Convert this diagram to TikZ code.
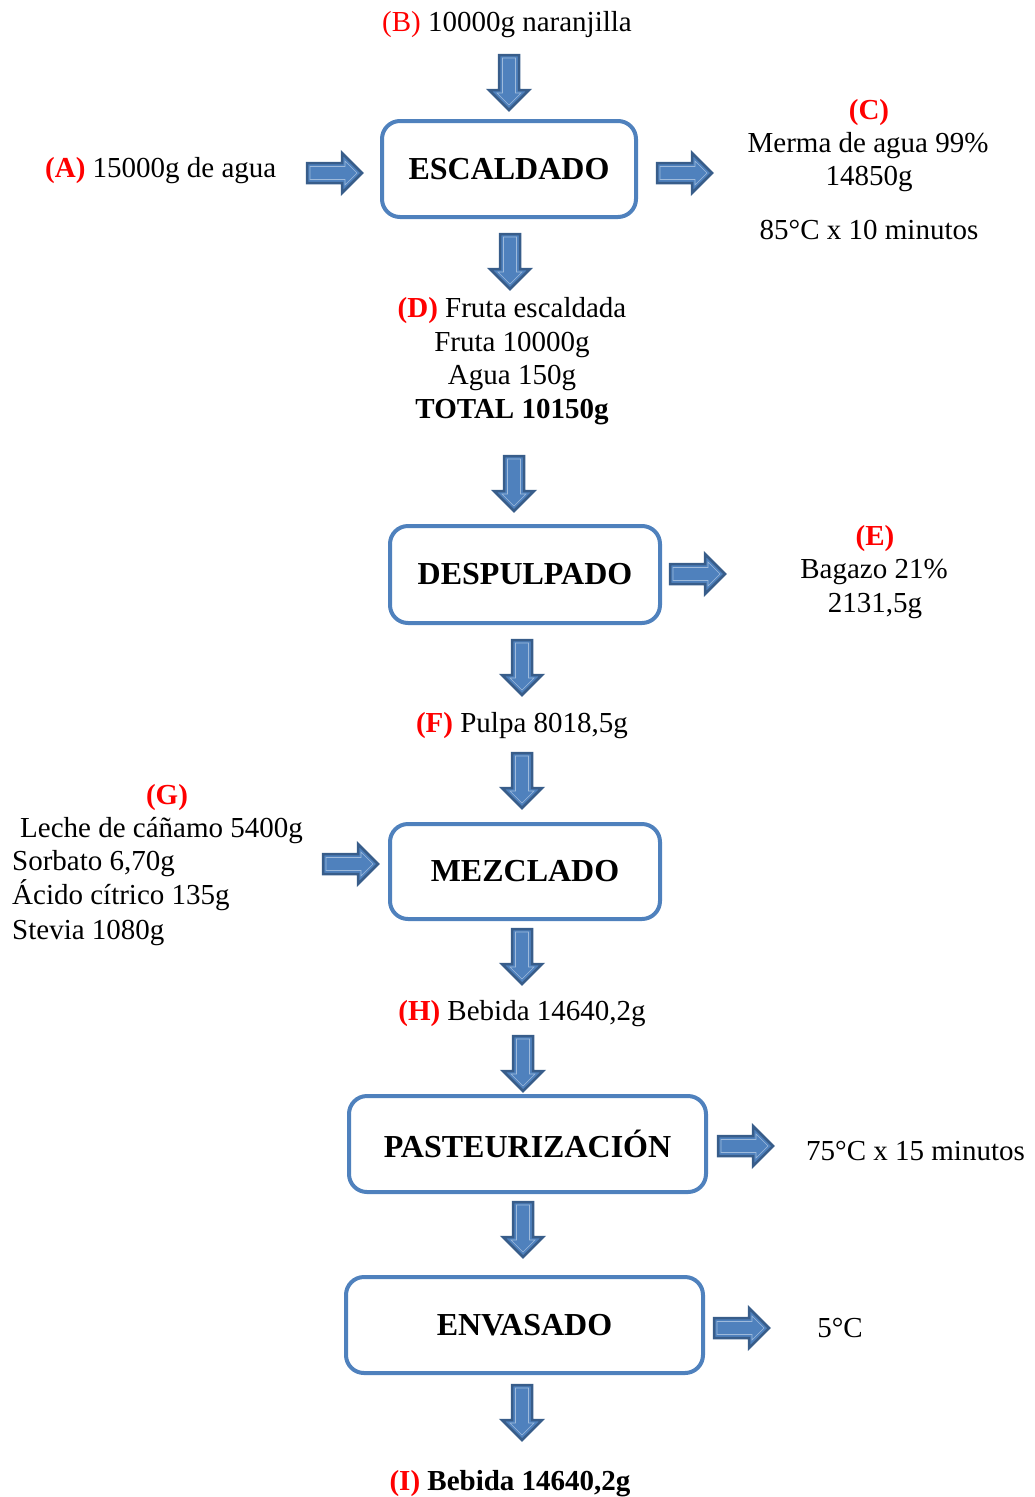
\documentclass[tikz,border=0pt]{standalone}
\usepackage{fontspec}
\setmainfont{Liberation Serif}
\begin{document}
\definecolor{boxblue}{HTML}{4F81BD}
\definecolor{arrowedge}{HTML}{385D8A}
\begin{tikzpicture}[x=1pt,y=-1pt,
  procbox/.style={draw=boxblue, line width=4pt, rounded corners=18pt, fill=white,
    font=\fontsize{32}{36}\selectfont\bfseries, inner sep=0pt, yshift=-1.5pt},
  lbl/.style={font=\fontsize{29}{33.5}\selectfont, inner sep=0pt, text height=20pt, text depth=6pt, yshift=-2.5pt},
  arrowbody/.style={fill=boxblue, draw=arrowedge, line width=2.5pt, line join=miter},
  pics/blockarrow/.style={code={
    \draw[arrowbody] (0,-10) -- (35,-10) -- (35,-20) -- (55,0) -- (35,20) -- (35,10) -- (0,10) -- cycle;
    \draw[white!45!boxblue, line width=0.6pt] (3,-6.5) -- (38,-6.5) -- (38,-12) -- (50,0) -- (38,12) -- (38,6.5) -- (3,6.5) -- cycle;
  }}]
\useasboundingbox (0,0) rectangle (1035,1497);

% process boxes
\node[procbox, minimum width=254, minimum height=96] (esc) at (509,167.5) {ESCALDADO};
\node[procbox, minimum width=270, minimum height=97] (desp) at (525,573) {DESPULPADO};
\node[procbox, minimum width=270, minimum height=95] (mez) at (525,870) {MEZCLADO};
\node[procbox, minimum width=357, minimum height=96] (past) at (527.5,1142.5) {PASTEURIZACIÓN};
\node[procbox, minimum width=357, minimum height=96] (env) at (524.5,1323.5) {ENVASADO};

% vertical flow arrows
\pic[rotate=-90] at (509,55) {blockarrow};
\pic[rotate=-90] at (510,234) {blockarrow};
\pic[rotate=-90] at (514,456) {blockarrow};
\pic[rotate=-90] at (522,640) {blockarrow};
\pic[rotate=-90] at (522,753) {blockarrow};
\pic[rotate=-90] at (522,929) {blockarrow};
\pic[rotate=-90] at (523,1036) {blockarrow};
\pic[rotate=-90] at (523,1202) {blockarrow};
\pic[rotate=-90] at (522,1385) {blockarrow};

% side arrows
\pic at (307,173) {blockarrow};
\pic at (657,173) {blockarrow};
\pic at (670,574) {blockarrow};
\pic at (323,864) {blockarrow};
\pic at (718,1146) {blockarrow};
\pic at (714,1328) {blockarrow};

% inputs and outputs
\node[lbl] (b) at (507,22) {\textcolor{red}{(B)} 10000g naranjilla};
\node[lbl, anchor=west] (a) at (45,168) {\textbf{\textcolor{red}{(A)}} 15000g de agua};

\node[lbl] (ctag) at (869,110) {\textbf{\textcolor{red}{(C)}}};
\node[lbl] (c1) at (868,143) {Merma de agua 99\%};
\node[lbl] (c2) at (869,176) {14850g};
\node[lbl] (c3) at (869,230) {85°C x 10 minutos};

\node[lbl] (d1) at (512,308) {\textbf{\textcolor{red}{(D)}} Fruta escaldada};
\node[lbl] (d2) at (512,342) {Fruta 10000g};
\node[lbl] (d3) at (512,375) {Agua 150g};
\node[lbl] (d4) at (512,409) {\textbf{TOTAL 10150g}};

\node[lbl] (etag) at (875,536) {\textbf{\textcolor{red}{(E)}}};
\node[lbl] (e1) at (874,569) {Bagazo 21\%};
\node[lbl] (e2) at (875,603) {2131,5g};

\node[lbl] (f) at (522,723) {\textbf{\textcolor{red}{(F)}} Pulpa 8018,5g};

\node[lbl] (gtag) at (167,795) {\textbf{\textcolor{red}{(G)}}};
\node[lbl, anchor=west] (g1) at (20,828) {Leche de cáñamo 5400g};
\node[lbl, anchor=west] (g2) at (12,861) {Sorbato 6,70g};
\node[lbl, anchor=west] (g3) at (12,895) {Ácido cítrico 135g};
\node[lbl, anchor=west] (g4) at (12,930) {Stevia 1080g};

\node[lbl] (h) at (522,1011) {\textbf{\textcolor{red}{(H)}} Bebida 14640,2g};

\node[lbl, anchor=west] (pt) at (806,1151) {75°C x 15 minutos};
\node[lbl] (et) at (840,1328) {5°C};

\node[lbl] (i) at (510,1481) {\textbf{\textcolor{red}{(I)} Bebida 14640,2g}};
\end{tikzpicture}
\end{document}
